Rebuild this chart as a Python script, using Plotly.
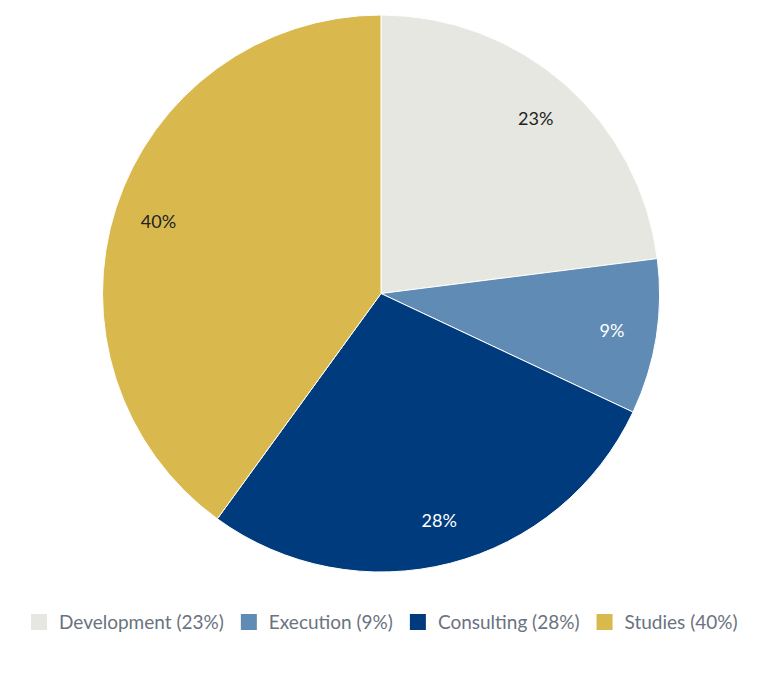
import plotly.graph_objects as go

labels = ['Development', 'Execution', 'Consulting', 'Studies']
values = [23, 9, 28, 40]
colors = ['#E6E7E0', '#5F8BB4', '#003C7D', '#D9B94E']
text_colors = ['#222222', '#FFFFFF', '#FFFFFF', '#222222']

legend_names = [f'{l} ({v}%)' for l, v in zip(labels, values)]

fig = go.Figure()

# filled slices
fig.add_trace(go.Pie(
    labels=legend_names,
    values=values,
    sort=False,
    direction='clockwise',
    rotation=0,
    marker=dict(colors=colors, line=dict(color='white', width=1)),
    textinfo='none',
    hoverinfo='label',
    showlegend=False,
))

# transparent ring on top, only to place the % labels further out
fig.add_trace(go.Pie(
    labels=legend_names,
    values=values,
    sort=False,
    direction='clockwise',
    rotation=0,
    hole=0.68,
    marker=dict(colors=['rgba(0,0,0,0)'] * 4, line=dict(width=0)),
    texttemplate='%{value}%',
    textposition='inside',
    insidetextorientation='horizontal',
    textfont=dict(family='Lato', size=18, color=text_colors),
    hoverinfo='skip',
    showlegend=False,
))

# legend entries with larger square swatches
for name, c in zip(legend_names, colors):
    fig.add_trace(go.Scatter(
        x=[None], y=[None],
        mode='markers',
        name=name,
        marker=dict(symbol='square', size=18, color=c),
        hoverinfo='skip',
    ))

fig.update_layout(
    width=768,
    height=676,
    margin=dict(l=0, r=22, t=7, b=112),
    paper_bgcolor='white',
    plot_bgcolor='white',
    xaxis=dict(visible=False),
    yaxis=dict(visible=False),
    showlegend=True,
    legend=dict(
        orientation='h',
        x=0.5,
        xanchor='center',
        y=-0.09,
        yanchor='middle',
        font=dict(family='Lato', size=19, color='#6B7280'),
        itemsizing='trace',
    ),
)

fig.write_html("out.html")
